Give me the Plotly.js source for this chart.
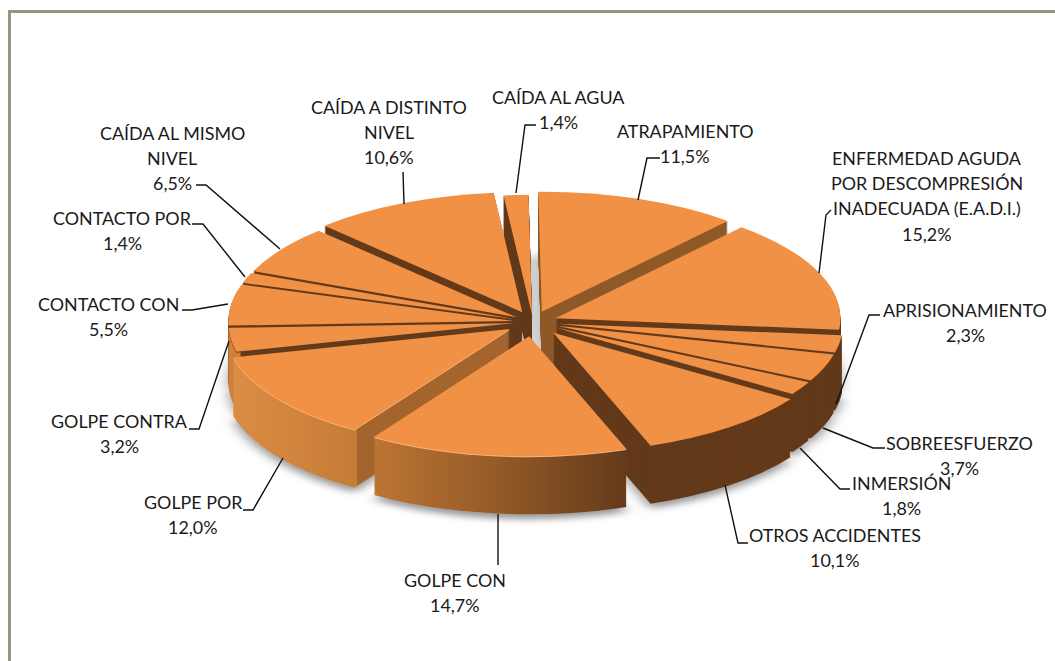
<!DOCTYPE html>
<html><head><meta charset="utf-8">
<script src="https://cdn.plot.ly/plotly-3.0.1.min.js"></script>
<style>html,body{margin:0;padding:0;background:#fff;overflow:hidden}</style>
</head><body><div id="chart" style="width:1055px;height:661px"></div>
<script>
const categories = ["ATRAPAMIENTO","ENFERMEDAD AGUDA\nPOR DESCOMPRESIÓN\nINADECUADA (E.A.D.I.)","APRISIONAMIENTO","SOBREESFUERZO","INMERSIÓN","OTROS ACCIDENTES","GOLPE CON","GOLPE POR","GOLPE CONTRA","CONTACTO CON","CONTACTO POR","CAÍDA AL MISMO\nNIVEL","CAÍDA A DISTINTO\nNIVEL","CAÍDA AL AGUA"];
const values = [11.5,15.2,2.3,3.7,1.8,10.1,14.7,12.0,3.2,5.5,1.4,6.5,10.6,1.4];
const pulls = [0.09,0.085,0.09,0.09,0.09,0.115,0.12,0.10,0.07,0.07,0.07,0.07,0.09,0.06];
const sideColors = ["#8f5a28","#633a1a","#633a1a","#633a1a","#633a1a","#633a1a","#8a5426","#a3652d","#633a1a","#633a1a","#633a1a","#633a1a","#633a1a","#633a1a"];
const labelCenterX = [685,927,965,959,902,835,455,193,119,108,122,172,389,558];
const labelTopY = [131,158,310,443,483,535,580,502,421,304,218,133,107,97];
const leaderX = [[660,647,638],[831,826,819],[880,869,836],[885,873,823],[850,840,800],[748,738,725],[498,498],[243,253,283],[189,199,229],[182,192,228],[192,203,245],[196,206,280],[403,404],[536,525,516]];
const leaderY = [[158,158,200],[210,215,273],[315,315,404],[448,448,428],[489,489,448],[543,543,485],[514,565],[510,510,458],[429,429,341],[310,310,304],[224,224,277],[185,185,249],[172,204],[125,125,193]];

const W=1055,H=661,cx=533,cy=322,ry=120,rx=285,depth=58,maxPull=Math.max(...pulls),D=2*ry*(1+maxPull),topColor="#f19145",lineH=25.2;
function layer(offset,colors){
  return {type:"pie",values,labels:categories,sort:false,direction:"clockwise",rotation:-0.7,pull:pulls,textinfo:"none",hoverinfo:"skip",showlegend:false,
    marker:{colors,line:{width:0}},
    domain:{x:[(cx-D/2)/W,(cx+D/2)/W],y:[1-(cy+offset+D/2)/H,1-(cy+offset-D/2)/H]}};
}
const traces=[layer(depth+5,values.map(()=>"#9a9a9a"))];
for(let i=depth;i>1;i--) traces.push(layer(i,sideColors));
traces.push(layer(1,sideColors.map((c,i)=>(i===6||i===7)?"#f8b27a":c)));
traces.push(layer(0,values.map(()=>topColor)));

const annotations=[];
categories.forEach((c,i)=>{
  const lines=c.split("\n").concat([values[i].toFixed(1).replace(".",",")+"%"]);
  lines.forEach((t,j)=>annotations.push({text:t,showarrow:false,xref:"paper",yref:"paper",xanchor:"center",yanchor:"middle",
    x:labelCenterX[i]/W,y:1-(labelTopY[i]+j*lineH)/H,font:{family:"Lato",size:17.9,color:"#1a1a1a"}}));
});
const shapes=[{type:"rect",xref:"paper",yref:"paper",x0:9.5/W,x1:1.02,y0:1-11.5/H,y1:-0.02,line:{color:"#989480",width:3}}];
leaderX.forEach((xs,i)=>{
  const path=xs.map((x,j)=>(j?"L":"M")+(x/W)+","+(1-leaderY[i][j]/H)).join(" ");
  shapes.push({type:"path",xref:"paper",yref:"paper",path,line:{color:"#111",width:1.4}});
});
Plotly.newPlot("chart",traces,{width:W,height:H,margin:{l:0,r:0,t:0,b:0},paper_bgcolor:"#fff",annotations,shapes},{displayModeBar:false,staticPlot:true}).then(gd=>{
  const NS="http://www.w3.org/2000/svg",svg=gd.querySelector(".main-svg");
  const defs=document.createElementNS(NS,"defs");
  function grad(id,stops){
    const g=document.createElementNS(NS,"linearGradient");g.setAttribute("id",id);
    stops.forEach(s=>{const e=document.createElementNS(NS,"stop");e.setAttribute("offset",s[0]);e.setAttribute("stop-color",s[1]);g.appendChild(e);});
    defs.appendChild(g);
  }
  grad("gCon",[[0,"#bc7432"],[0.5,"#935a28"],[1,"#653a1a"]]);
  grad("gPor",[[0,"#da8d43"],[0.449,"#c67b36"],[0.45,"#a3652d"],[1,"#a3652d"]]);
  grad("gContra",[[0,"#cf8039"],[0.04,"#cf8039"],[0.045,"#633a1a"],[1,"#633a1a"]]);
  const f=document.createElementNS(NS,"filter");f.setAttribute("id","blur");f.setAttribute("x","-10%");f.setAttribute("y","-10%");f.setAttribute("width","120%");f.setAttribute("height","120%");
  const b=document.createElementNS(NS,"feGaussianBlur");b.setAttribute("stdDeviation","3");f.appendChild(b);defs.appendChild(f);
  svg.appendChild(defs);
  const pl=gd.querySelector(".pielayer");
  pl.setAttribute("transform","translate("+cx+",0) scale("+(rx/ry)+",1) translate("+(-cx)+",0)");
  const tr=pl.querySelectorAll(".trace");
  tr[0].setAttribute("filter","url(#blur)");
  tr.forEach((t,k)=>{
    if(k===0||k>=tr.length-2) return;
    const s=t.querySelectorAll(".slice path.surface");
    s[6].style.fill="url(#gCon)";s[7].style.fill="url(#gPor)";s[8].style.fill="url(#gContra)";
  });
});
</script></body></html>
